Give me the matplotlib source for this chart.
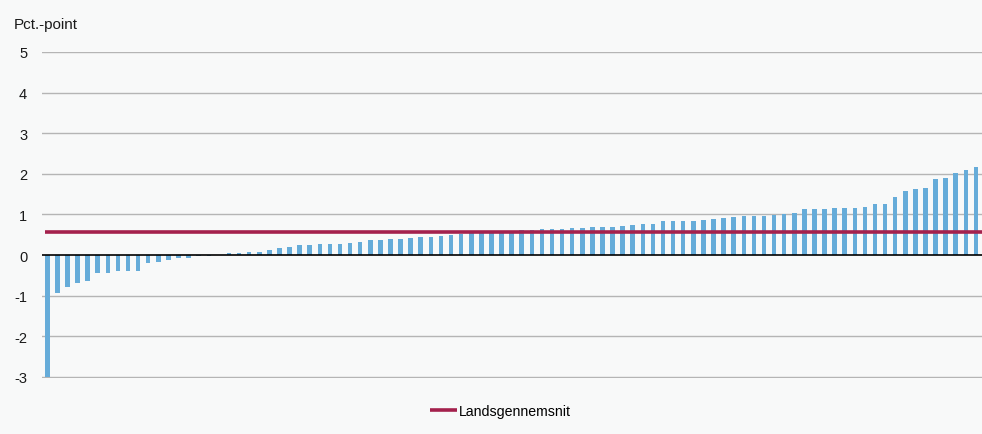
import numpy as np
import matplotlib
matplotlib.use('Agg')
import matplotlib.pyplot as plt

plt.rcParams['font.family'] = ['Liberation Sans', 'DejaVu Sans']

# Change per municipality, sorted (pct.-point)
values = [-3.00, -0.93, -0.79, -0.68, -0.64, -0.45, -0.45, -0.40, -0.40, -0.39,
          -0.19, -0.16, -0.12, -0.07, -0.06, -0.03, -0.03, 0.00, 0.05, 0.05,
          0.08, 0.08, 0.13, 0.17, 0.20, 0.25, 0.26, 0.28, 0.28, 0.28,
          0.31, 0.33, 0.36, 0.37, 0.40, 0.40, 0.43, 0.45, 0.45, 0.47,
          0.50, 0.52, 0.54, 0.56, 0.57, 0.57, 0.60, 0.62, 0.63, 0.64,
          0.64, 0.64, 0.66, 0.67, 0.68, 0.69, 0.69, 0.72, 0.75, 0.77,
          0.77, 0.83, 0.83, 0.83, 0.85, 0.87, 0.89, 0.92, 0.93, 0.97,
          0.97, 0.97, 0.99, 1.00, 1.03, 1.13, 1.14, 1.14, 1.15, 1.16,
          1.17, 1.19, 1.27, 1.27, 1.43, 1.59, 1.63, 1.65, 1.88, 1.89,
          2.02, 2.09, 2.16]
national_avg = 0.56
y_ticks = [-3, -2, -1, 0, 1, 2, 3, 4, 5]

bg = '#f8f9f9'
bar_col = '#66acd9'
avg_col = '#a4214d'

fig = plt.figure(figsize=(9.82, 4.35), dpi=100, facecolor=bg)
ax = fig.add_axes([0.0425, 0.1283, 0.9575, 0.7499], facecolor=bg)

x = np.arange(len(values))
ax.bar(x, values, width=0.45, color=bar_col, zorder=3)

# national average
ax.plot([x[0] - 0.25, x[-1] + 0.7], [national_avg, national_avg],
        color=avg_col, lw=2.6, zorder=4, solid_capstyle='butt',
        label='Landsgennemsnit')

ax.set_xlim(-0.55, len(values) - 0.4)
ax.set_ylim(-3.03, 5.0)
ax.set_yticks(y_ticks)
ax.set_yticklabels([str(t) for t in y_ticks])
ax.set_xticks([])
for t in y_ticks:
    if t != 0:
        ax.axhline(t, color='#b5b5b5', lw=1.0, zorder=1)
ax.axhline(0, color='black', lw=1.2, zorder=5)

for s in ax.spines.values():
    s.set_visible(False)
ax.tick_params(axis='y', length=0, pad=10.5, labelsize=10.5, colors='#1a1a1a')

fig.text(0.014, 0.943, 'Pct.-point', fontsize=11, color='#1a1a1a',
         ha='left', va='center')

leg = fig.legend(loc='center', bbox_to_anchor=(0.51, 0.052), frameon=False,
                 fontsize=10.2, handlelength=1.9, handletextpad=0.15)

fig.savefig('out.png', dpi=100, facecolor=bg)
